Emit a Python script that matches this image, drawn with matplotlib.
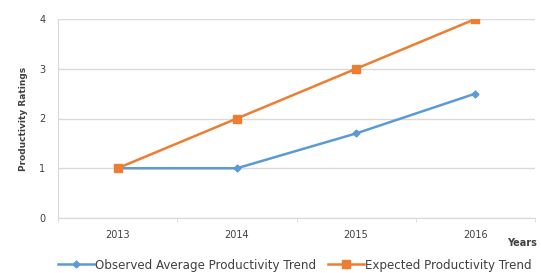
import matplotlib.pyplot as plt
import numpy as np

years = ["2013", "2014", "2015", "2016"]
observed = [1.0, 1.0, 1.7, 2.5]
expected = [1.0, 2.0, 3.0, 4.0]

fig = plt.figure(figsize=(5.41, 2.73), dpi=100)
ax = fig.add_axes([58/541, 1-218/273, 477/541, 199/273])

x = np.arange(len(years))
ax.plot(x, observed, color="#5b9bd5", lw=1.8, marker="D", ms=3.5, label="Observed Average Productivity Trend")
ax.plot(x, expected, color="#ed7d31", lw=1.8, marker="s", ms=5.5, label="Expected Productivity Trend")

ax.set_xlim(-0.5, 3.5)
ax.set_ylim(0, 4)
ax.set_yticks([0, 1, 2, 3, 4])
ax.set_xticks(x)
ax.set_xticklabels(years)
ax.set_xticks([-0.5, 0.5, 1.5, 2.5, 3.5], minor=True)
ax.grid(axis="y", color="#d9d9d9", lw=1)
ax.set_axisbelow(True)
for s in ["top", "right"]:
    ax.spines[s].set_visible(False)
ax.spines["left"].set_color("#d9d9d9")
ax.spines["bottom"].set_color("#d9d9d9")
ax.tick_params(axis="both", which="both", length=0, labelsize=7, colors="#404040", pad=9)
ax.tick_params(axis="x", which="minor", length=3, color="#d9d9d9")

ax.set_ylabel("Productivity Ratings", fontsize=6.5, fontweight="bold", color="#404040", labelpad=8)
ax.text(522/541, 1-243/273, "Years", transform=fig.transFigure, fontsize=7, fontweight="bold",
        color="#404040", ha="center", va="center")

fig.legend(loc="center", bbox_to_anchor=(0.545, 1-265/273), ncol=2, frameon=False, fontsize=8.6,
           handlelength=3, columnspacing=1.0, handletextpad=0.1, labelcolor="#404040")

fig.savefig("out.png", dpi=100)
